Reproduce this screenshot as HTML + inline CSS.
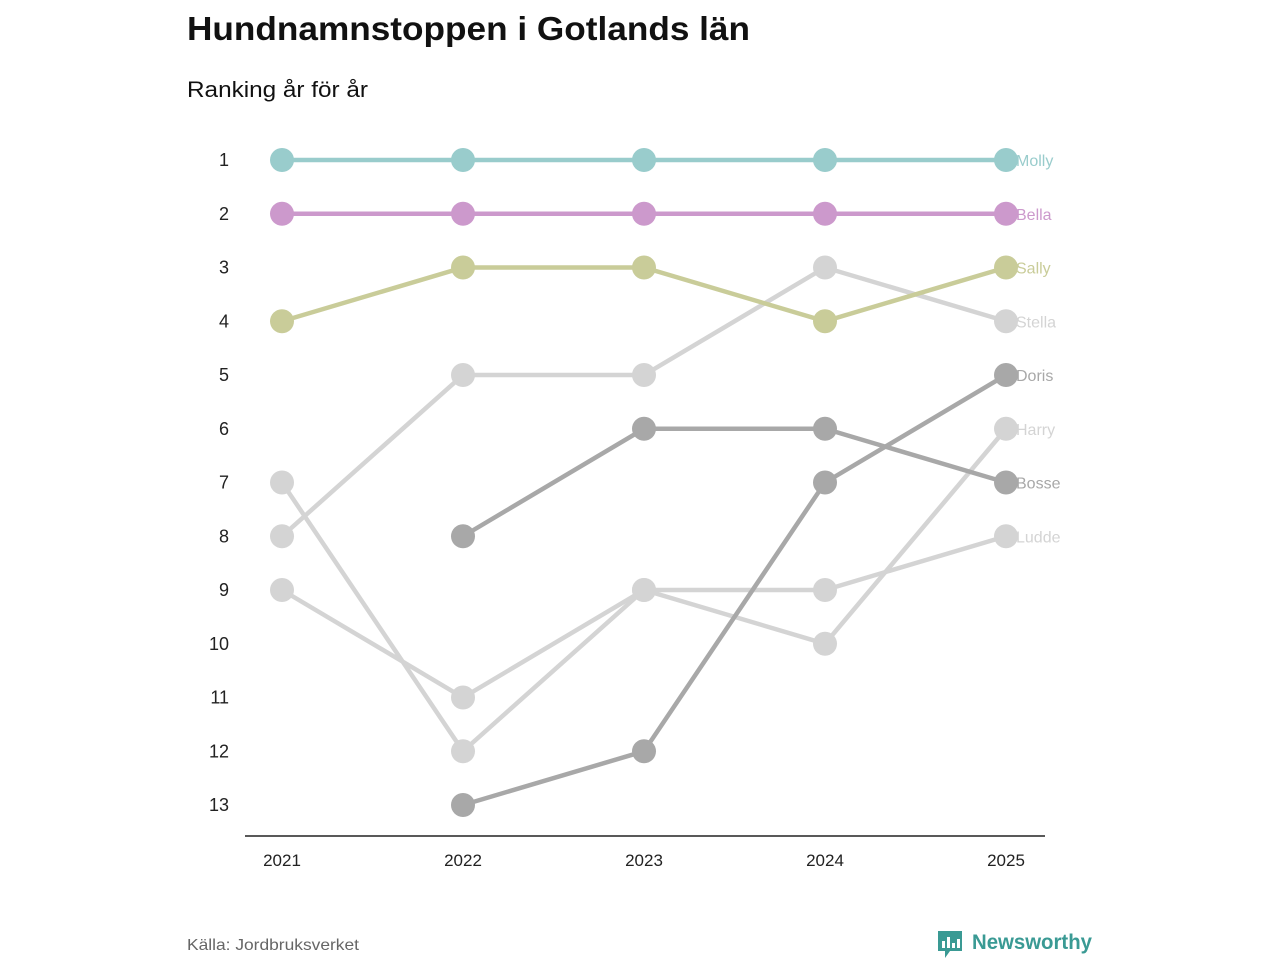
<!DOCTYPE html>
<html><head><meta charset="utf-8">
<style>
body{margin:0;background:#fff;width:1280px;height:960px;overflow:hidden;font-family:"Liberation Sans","DejaVu Sans",sans-serif;}
</style></head>
<body>
<svg width="1280" height="960">
<text x="187" y="40" font-size="33" font-weight="bold" fill="#111" textLength="563" lengthAdjust="spacingAndGlyphs">Hundnamnstoppen i Gotlands län</text>
<text x="187" y="97" font-size="22" fill="#111" textLength="181" lengthAdjust="spacingAndGlyphs">Ranking år för år</text>
<g id="plot"></g>
<line x1="245" y1="836" x2="1045" y2="836" stroke="#222" stroke-width="1.5"/>
<text x="187" y="950" font-size="16" fill="#666" textLength="172" lengthAdjust="spacingAndGlyphs">Källa: Jordbruksverket</text>
<g>
<path d="M938 931h24v20h-12l-5 7v-7h-7z" fill="#3a9a94"/>
<rect x="942" y="941" width="3" height="7" fill="#fff"/><rect x="947" y="937" width="3" height="11" fill="#fff"/><rect x="952" y="943" width="3" height="5" fill="#fff"/><rect x="957" y="939" width="3" height="9" fill="#fff"/>
<text x="972" y="949" font-size="21" font-weight="bold" fill="#3a9a94" textLength="120" lengthAdjust="spacingAndGlyphs">Newsworthy</text>
</g>
</svg>
<script>
const years=[2021,2022,2023,2024,2025];
const rankTicks=[1,2,3,4,5,6,7,8,9,10,11,12,13];
const names=["Ludde","Harry","Stella","Bosse","Doris","Sally","Bella","Molly"];
const colors=["#d4d4d4","#d4d4d4","#d4d4d4","#a8a8a8","#a8a8a8","#c9cc99","#cc99cc","#99cccc"];
const rLudde=[9,11,9,9,8];
const rHarry=[7,12,9,10,6];
const rStella=[8,5,5,3,4];
const rBosse=[null,8,6,6,7];
const rDoris=[null,13,12,7,5];
const rSally=[4,3,3,4,3];
const rBella=[2,2,2,2,2];
const rMolly=[1,1,1,1,1];
const series=[rLudde,rHarry,rStella,rBosse,rDoris,rSally,rBella,rMolly];
const x=i=>282+i*181;
const y=r=>160+(r-1)*53.75;
const NS="http://www.w3.org/2000/svg";
const g=document.getElementById('plot');
function mk(t,a){const e=document.createElementNS(NS,t);for(const k in a)e.setAttribute(k,a[k]);g.appendChild(e);return e;}
rankTicks.forEach(r=>{const t=mk('text',{x:229,y:y(r)+6,'font-size':18,fill:'#222','text-anchor':'end'});t.textContent=r;

});
years.forEach((yr,i)=>{const t=mk('text',{x:x(i),y:866,'font-size':17,fill:'#222','text-anchor':'middle'});t.textContent=yr;

});
series.forEach((s,si)=>{
 const c=colors[si];let pts=[];
 s.forEach((r,i)=>{if(r!=null)pts.push(x(i)+','+y(r));});
 const p=mk('polyline',{points:pts.join(' '),fill:'none',stroke:c,'stroke-width':4.5});
 
 
 s.forEach((r,i)=>{if(r==null)return;const d=mk('circle',{cx:x(i),cy:y(r),r:12,fill:c});
 
 });
 const last=s[s.length-1];
 const t=mk('text',{x:1016,y:y(last)+6,'font-size':16,fill:c});t.textContent=names[si];
 
 
});
</script>
</body></html>
